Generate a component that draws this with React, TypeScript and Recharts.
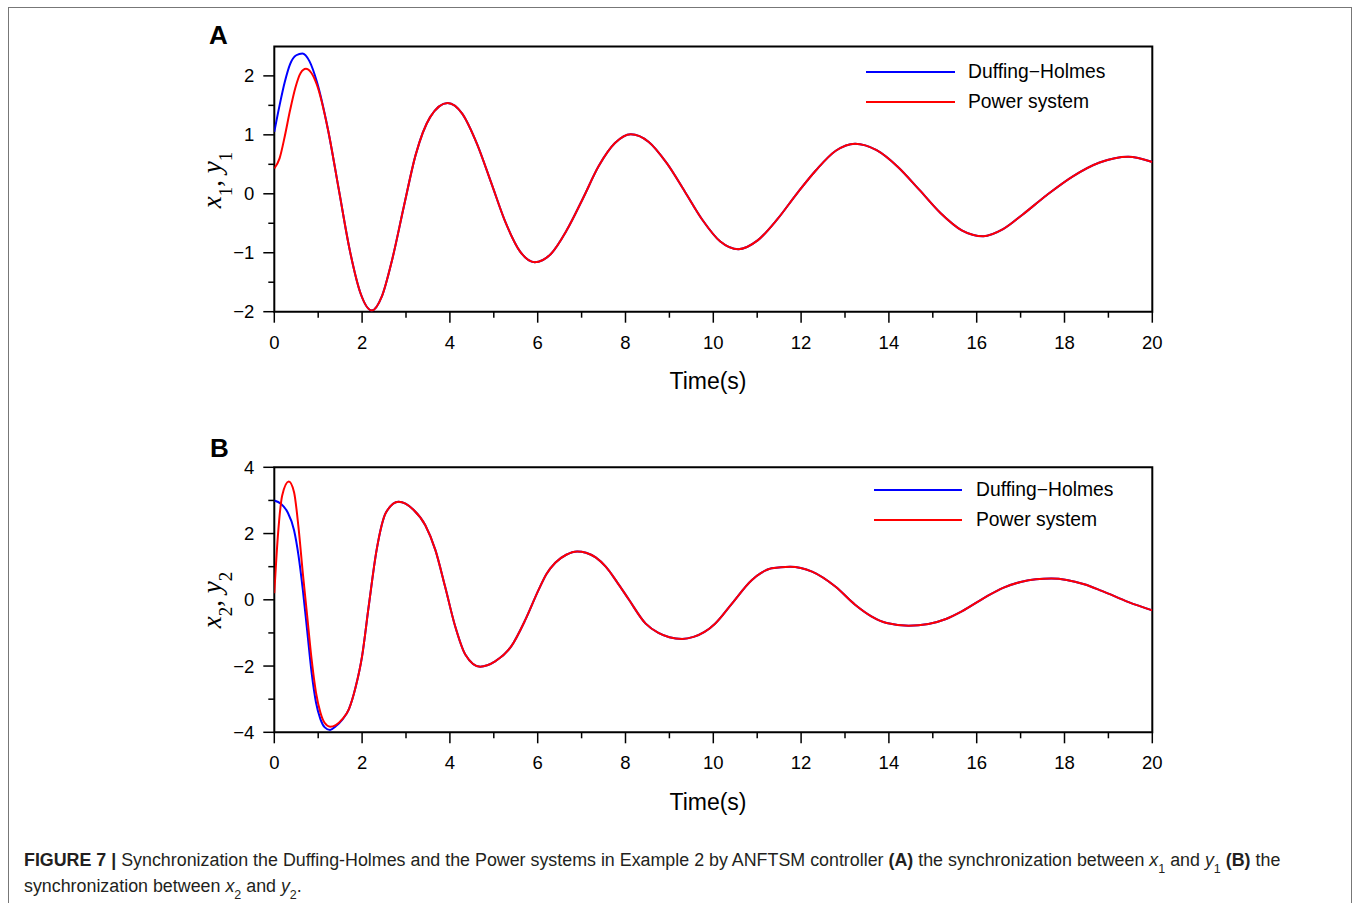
import React from 'react';
import { LineChart, Line, XAxis, YAxis, ReferenceArea, Legend } from 'recharts';

// ---------- tick definitions ----------
const timeTicks = [0, 1, 2, 3, 4, 5, 6, 7, 8, 9, 10, 11, 12, 13, 14, 15, 16, 17, 18, 19, 20];
const timeLabels = [0, 2, 4, 6, 8, 10, 12, 14, 16, 18, 20];
const yTicksA = [-2, -1.5, -1, -0.5, 0, 0.5, 1, 1.5, 2];
const yLabelsA = [-2, -1, 0, 1, 2];
const yTicksB = [-4, -3, -2, -1, 0, 1, 2, 3, 4];
const yLabelsB = [-4, -2, 0, 2, 4];

const seriesNames = ['Duffing\u2212Holmes', 'Power system'];
const seriesColors = ['#0000ff', '#ff0000'];

// ---------- Panel A : x1 (Duffing-Holmes) and y1 (Power system) ----------
const tA_power = [0, 0.12, 0.24, 0.36, 0.48, 0.6, 0.72, 0.97, 1.22, 1.47, 1.72, 1.97, 2.22, 2.45, 2.69, 2.95, 3.22, 3.55, 3.95, 4.28, 4.61, 4.94, 5.27, 5.6, 5.93, 6.3, 6.66, 7.03, 7.39, 7.76, 8.12, 8.53, 8.94, 9.35, 9.75, 10.16, 10.57, 11.01, 11.46, 11.9, 12.34, 12.79, 13.23, 13.72, 14.2, 14.69, 15.18, 15.66, 16.15, 16.6, 17.05, 17.6, 18.2, 18.8, 19.45, 20];
const vA_power = [0.43, 0.6, 0.98, 1.42, 1.8, 2.05, 2.12, 1.85, 1.1, 0.07, -0.96, -1.7, -1.98, -1.74, -1.1, -0.22, 0.66, 1.3, 1.54, 1.36, 0.86, 0.19, -0.49, -0.98, -1.16, -1.02, -0.62, -0.08, 0.47, 0.86, 1.01, 0.88, 0.52, 0.04, -0.44, -0.81, -0.94, -0.79, -0.43, 0.0, 0.4, 0.73, 0.85, 0.74, 0.46, 0.07, -0.33, -0.62, -0.72, -0.6, -0.35, -0.02, 0.3, 0.53, 0.63, 0.54];
const tA_duffingEarly = [0, 0.12, 0.24, 0.36, 0.5, 0.64, 0.8, 0.97];
const vA_duffingEarly = [1.05, 1.5, 1.9, 2.2, 2.35, 2.38, 2.25, 1.9];
const mergeIndexA = 8; // synchronised from t = 1.22 on

// ---------- Panel B : x2 (Duffing-Holmes) and y2 (Power system) ----------
const tB_power = [0, 0.08, 0.18, 0.33, 0.45, 0.55, 0.65, 0.75, 0.85, 0.95, 1.05, 1.15, 1.27, 1.4, 1.55, 1.7, 1.85, 2.0, 2.15, 2.33, 2.55, 2.83, 3.17, 3.44, 3.67, 3.89, 4.12, 4.35, 4.69, 5.03, 5.4, 5.72, 6.02, 6.2, 6.4, 6.65, 6.9, 7.1, 7.32, 7.55, 7.8, 8.08, 8.46, 8.75, 9.0, 9.29, 9.55, 9.8, 10.04, 10.42, 10.88, 11.1, 11.33, 11.75, 12.25, 12.78, 13.23, 13.6, 13.95, 14.45, 14.9, 15.3, 15.66, 16.2, 16.6, 17.0, 17.35, 17.7, 18.05, 18.45, 18.85, 19.46, 20];
const vB_power = [0.2, 1.9, 3.15, 3.57, 3.25, 2.2, 0.8, -0.5, -1.8, -2.8, -3.4, -3.72, -3.83, -3.78, -3.6, -3.3, -2.65, -1.7, -0.2, 1.5, 2.65, 2.96, 2.72, 2.25, 1.5, 0.4, -0.8, -1.65, -2.02, -1.86, -1.4, -0.6, 0.3, 0.78, 1.12, 1.36, 1.46, 1.42, 1.28, 1.0, 0.55, 0.0, -0.72, -1.0, -1.13, -1.18, -1.12, -0.97, -0.72, -0.12, 0.6, 0.82, 0.95, 1.0, 0.85, 0.4, -0.15, -0.5, -0.7, -0.78, -0.73, -0.58, -0.35, 0.08, 0.36, 0.54, 0.62, 0.64, 0.6, 0.47, 0.27, -0.07, -0.32];
const tB_duffingEarly = [0, 0.15, 0.3, 0.45, 0.55, 0.65, 0.75, 0.85, 0.95, 1.05, 1.15, 1.27, 1.4, 1.55];
const vB_duffingEarly = [3.0, 2.9, 2.65, 2.1, 1.35, 0.3, -0.95, -2.2, -3.1, -3.6, -3.85, -3.93, -3.82, -3.62];
const mergeIndexB = 15; // synchronised from t = 1.7 on

type Pt = { t: number; v: number };
const toPts = (ts: number[], vs: number[]): Pt[] => ts.map((t, i) => ({ t, v: vs[i] }));

const powerA = toPts(tA_power, vA_power);
const duffingA = [...toPts(tA_duffingEarly, vA_duffingEarly), ...powerA.slice(mergeIndexA)];
const powerB = toPts(tB_power, vB_power);
const duffingB = [...toPts(tB_duffingEarly, vB_duffingEarly), ...powerB.slice(mergeIndexB)];

// ---------- layout ----------
const PLOT_LEFT = 274.3;
const PLOT_RIGHT = 1152.3;
const CH_W = 1356;
const CH_H = 420;
const Y_AXIS_W = 60;
const X_AXIS_H = 40;
const SANS = '"Liberation Sans", Arial, Helvetica, sans-serif';
const TICK_FS = 18.5;

const fmt = (v: number) => (v < 0 ? '\u2212' + Math.abs(v) : String(v));

const makeXTick = (labels: number[]) => (props: any) => {
  const { x, y, payload } = props;
  const major = labels.includes(payload.value);
  return (
    <g>
      <line x1={x} y1={y} x2={x} y2={y + (major ? 11 : 6)} stroke="#000" strokeWidth={1.5} />
      {major && (
        <text x={x} y={y + 37} textAnchor="middle" fontSize={TICK_FS} fontFamily={SANS} fill="#000">
          {fmt(payload.value)}
        </text>
      )}
    </g>
  );
};

const makeYTick = (labels: number[]) => (props: any) => {
  const { x, y, payload } = props;
  const major = labels.includes(payload.value);
  return (
    <g>
      <line x1={x} y1={y} x2={x - (major ? 11 : 6)} y2={y} stroke="#000" strokeWidth={1.5} />
      {major && (
        <text x={x - 20} y={y + 6.5} textAnchor="end" fontSize={TICK_FS} fontFamily={SANS} fill="#000">
          {fmt(payload.value)}
        </text>
      )}
    </g>
  );
};

const makeLegend = (lineW: number, gap: number) => (props: any) => {
  const payload = props.payload || [];
  return (
    <div style={{ fontFamily: SANS, fontSize: 19.3, color: '#000' }}>
      {payload.map((p: any) => (
        <div key={p.value} style={{ display: 'flex', alignItems: 'center', height: 30 }}>
          <svg width={lineW} height={4} style={{ display: 'block' }}>
            <line x1={0} y1={2} x2={lineW} y2={2} stroke={p.color} strokeWidth={2} />
          </svg>
          <span style={{ marginLeft: gap, whiteSpace: 'nowrap' }}>{p.value}</span>
        </div>
      ))}
    </div>
  );
};

type PanelProps = {
  top: number;
  plotTop: number;
  plotBottom: number;
  yDomain: [number, number];
  yTicks: number[];
  yLabels: number[];
  duffing: Pt[];
  power: Pt[];
  legendLeft: number;
  legendTop: number;
  legendLineW: number;
  legendGap: number;
};

function Panel(p: PanelProps) {
  return (
    <div style={{ position: 'absolute', left: 0, top: p.top }}>
      <LineChart
        width={CH_W}
        height={CH_H}
        margin={{
          top: p.plotTop,
          bottom: CH_H - p.plotBottom - X_AXIS_H,
          left: PLOT_LEFT - Y_AXIS_W,
          right: CH_W - PLOT_RIGHT,
        }}
      >
        <XAxis
          type="number"
          dataKey="t"
          domain={[0, 20]}
          ticks={timeTicks}
          interval={0}
          tickSize={0}
          tickMargin={0}
          axisLine={false}
          height={X_AXIS_H}
          tick={makeXTick(timeLabels)}
          allowDataOverflow
        />
        <YAxis
          type="number"
          dataKey="v"
          domain={p.yDomain}
          ticks={p.yTicks}
          interval={0}
          tickSize={0}
          tickMargin={0}
          axisLine={false}
          width={Y_AXIS_W}
          tick={makeYTick(p.yLabels)}
          allowDataOverflow
        />
        <Legend
          layout="vertical"
          align="center"
          verticalAlign="middle"
          content={makeLegend(p.legendLineW, p.legendGap)}
          wrapperStyle={{ position: 'absolute', left: p.legendLeft, top: p.legendTop, width: 320, height: 60 }}
        />
        <Line
          data={p.duffing}
          dataKey="v"
          name={seriesNames[0]}
          stroke={seriesColors[0]}
          strokeWidth={2}
          dot={false}
          type="monotone"
          isAnimationActive={false}
        />
        <Line
          data={p.power}
          dataKey="v"
          name={seriesNames[1]}
          stroke={seriesColors[1]}
          strokeWidth={2}
          dot={false}
          type="monotone"
          isAnimationActive={false}
        />
        <ReferenceArea
          x1={0}
          x2={20}
          y1={p.yDomain[0]}
          y2={p.yDomain[1]}
          fill="none"
          fillOpacity={0}
          stroke="#000"
          strokeWidth={2}
          ifOverflow="visible"
        />
      </LineChart>
    </div>
  );
}

const sub = (s: string) => (
  <tspan baselineShift="sub" fontSize="70%">{s}</tspan>
);

const CAP_FS = 17.85;

export default function App() {
  return (
    <div style={{ position: 'absolute', left: 0, top: 0, width: 1356, height: 903, overflow: 'hidden', background: '#fff' }}>
      <div style={{ position: 'absolute', left: 8, top: 7, width: 1344, height: 960, border: '1px solid #777', boxSizing: 'border-box' }} />
      <Panel
        top={0}
        plotTop={46.4}
        plotBottom={311.7}
        yDomain={[-2, 2.5]}
        yTicks={yTicksA}
        yLabels={yLabelsA}
        duffing={duffingA}
        power={powerA}
        legendLeft={866}
        legendTop={57}
        legendLineW={89}
        legendGap={13}
      />
      <Panel
        top={420}
        plotTop={47.3}
        plotBottom={312.3}
        yDomain={[-4, 4]}
        yTicks={yTicksB}
        yLabels={yLabelsB}
        duffing={duffingB}
        power={powerB}
        legendLeft={874}
        legendTop={55}
        legendLineW={88}
        legendGap={14}
      />
      <svg width={1356} height={903} style={{ position: 'absolute', left: 0, top: 0, pointerEvents: 'none' }}>
        <text x={209} y={44} fontFamily={SANS} fontWeight="bold" fontSize={26} fill="#000">A</text>
        <text x={210} y={457} fontFamily={SANS} fontWeight="bold" fontSize={26} fill="#000">B</text>

        <text x={708} y={389} textAnchor="middle" fontFamily={SANS} fontSize={23} fill="#000">Time(s)</text>
        <text x={708} y={810} textAnchor="middle" fontFamily={SANS} fontSize={23} fill="#000">Time(s)</text>

        <text transform="translate(221,180) rotate(-90)" textAnchor="middle" fontFamily='"Liberation Serif", "DejaVu Serif", serif' fontSize={27} fill="#000">
          <tspan fontStyle="italic">x</tspan>{sub('1')}<tspan>{', '}</tspan><tspan fontStyle="italic">y</tspan>{sub('1')}
        </text>
        <text transform="translate(221,600) rotate(-90)" textAnchor="middle" fontFamily='"Liberation Serif", "DejaVu Serif", serif' fontSize={27} fill="#000">
          <tspan fontStyle="italic">x</tspan>{sub('2')}<tspan>{', '}</tspan><tspan fontStyle="italic">y</tspan>{sub('2')}
        </text>

        <text x={24} y={866} fontFamily={SANS} fontSize={CAP_FS} fill="#231f20">
          <tspan fontWeight="bold">{'FIGURE 7 | '}</tspan>
          <tspan>{'Synchronization the Duffing-Holmes and the Power systems in Example 2 by ANFTSM controller '}</tspan>
          <tspan fontWeight="bold">{'(A)'}</tspan>
          <tspan>{' the synchronization between '}</tspan>
          <tspan fontStyle="italic">x</tspan>{sub('1')}
          <tspan>{' and '}</tspan>
          <tspan fontStyle="italic">y</tspan>{sub('1')}
          <tspan>{' '}</tspan>
          <tspan fontWeight="bold">{'(B)'}</tspan>
          <tspan>{' the'}</tspan>
        </text>
        <text x={24} y={892} fontFamily={SANS} fontSize={CAP_FS} fill="#231f20">
          <tspan>{'synchronization between '}</tspan>
          <tspan fontStyle="italic">x</tspan>{sub('2')}
          <tspan>{' and '}</tspan>
          <tspan fontStyle="italic">y</tspan>{sub('2')}
          <tspan>{'.'}</tspan>
        </text>
      </svg>
    </div>
  );
}
